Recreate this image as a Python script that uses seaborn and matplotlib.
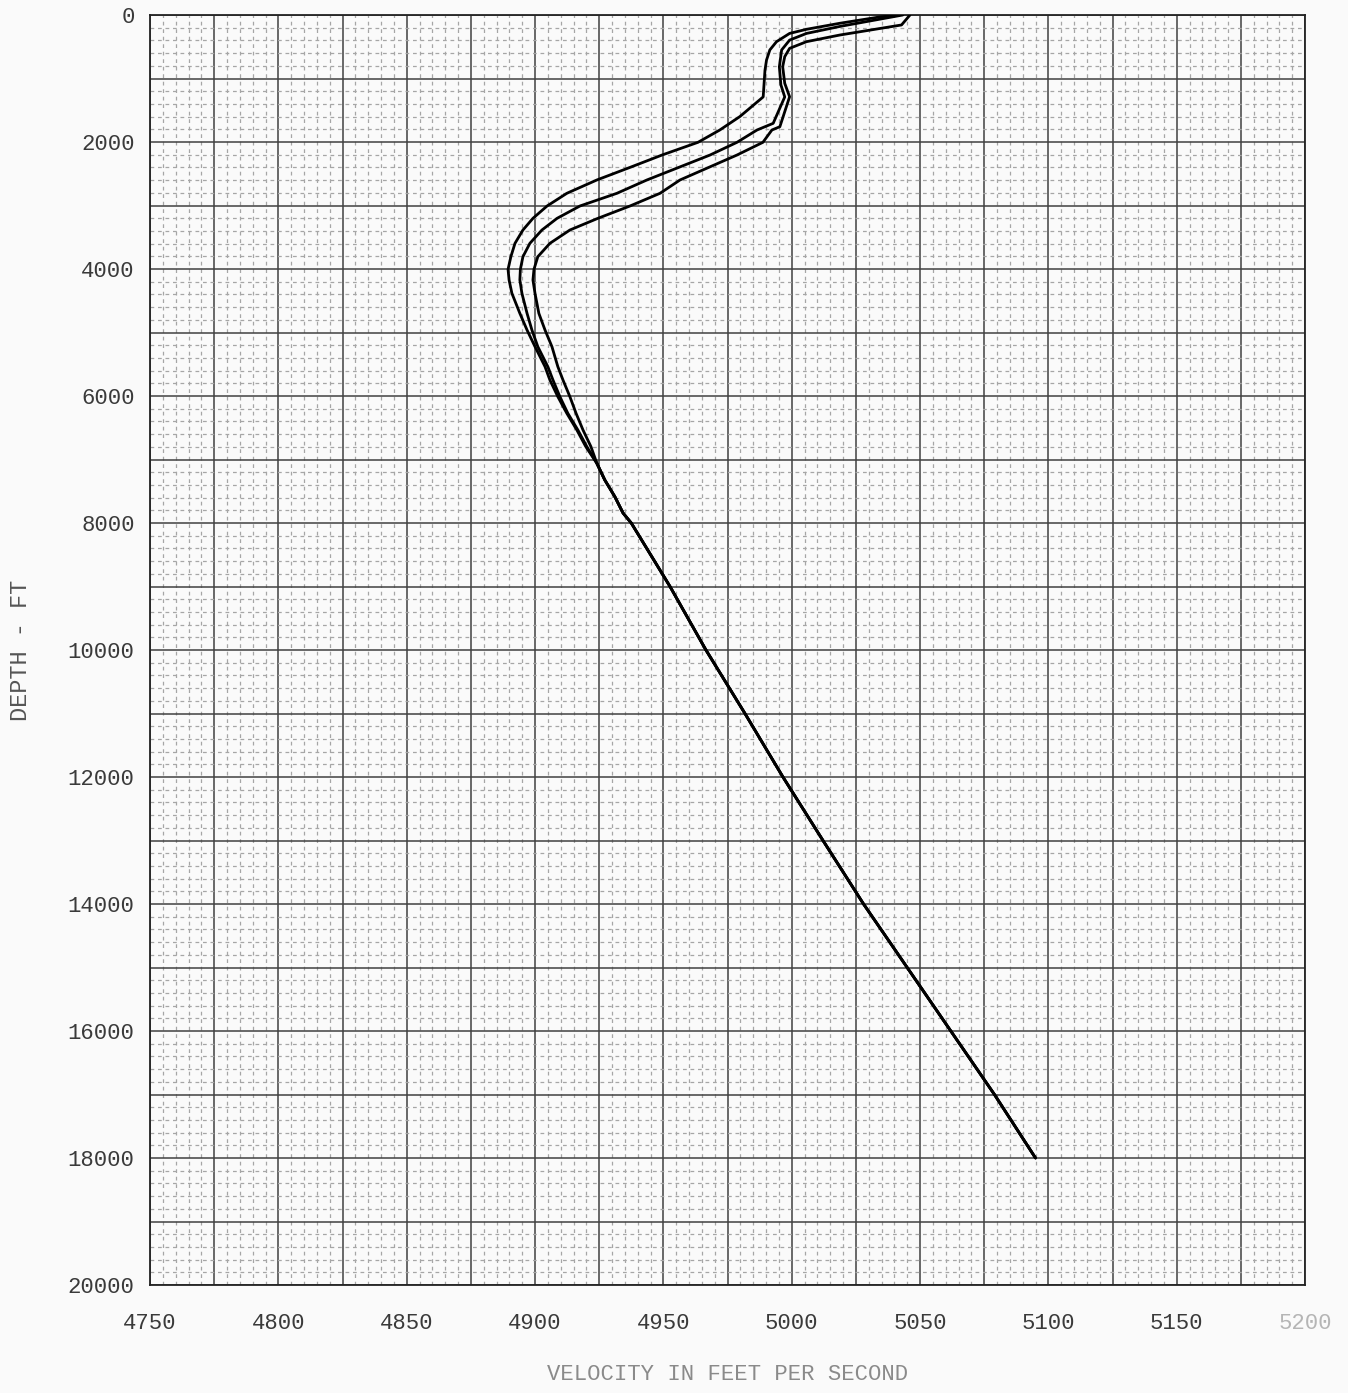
import matplotlib
matplotlib.use("Agg")
import matplotlib.pyplot as plt
from matplotlib.ticker import MultipleLocator, FuncFormatter
import seaborn as sns
import pandas as pd

# ---- data (depth in ft, velocity in ft/s) ----
depth_a = [0, 30, 130, 225, 290, 420, 550, 710, 870, 1290, 1600, 1811, 2005, 2205, 2400,
           2598, 2808, 3008, 3202, 3386, 3596, 3806, 4005, 4173, 4383, 4698, 4961, 5223,
           5538, 5748, 6011, 6273, 6535, 6798, 7060, 7323, 7585, 7843, 8000]
vel_a = [5042, 5034.4, 5018.8, 5005.8, 4999.2, 4994.1, 4991.5, 4990.2, 4989.6, 4988.9,
         4979.8, 4972.0, 4963.5, 4949.5, 4937.0, 4924.1, 4912.4, 4904.7, 4899.2, 4895.3,
         4892.2, 4890.6, 4889.5, 4889.9, 4891.0, 4894.1, 4896.9, 4900.0, 4903.9, 4905.8,
         4908.9, 4912.4, 4916.3, 4919.8, 4924.1, 4927.2, 4931.1, 4934.3, 4937.5]

depth_b = [0, 180, 290, 395, 550, 815, 1100, 1290, 1706, 1811, 2005, 2205, 2598, 2808,
           3008, 3202, 3386, 3596, 3806, 4005, 4173, 4383, 4698, 4961, 5223, 5538, 5748,
           6011, 6273, 6535, 6798, 7060, 7323, 7585, 7843, 8000]
vel_b = [5043.3, 5018.8, 5005.8, 4999.2, 4996.1, 4995.2, 4995.8, 4997.3, 4992.8, 4986.5,
         4978.7, 4968.2, 4943.6, 4931.9, 4917.5, 4908.6, 4902.7, 4898.0, 4895.3, 4894.3,
         4894.1, 4894.9, 4896.9, 4898.8, 4901.1, 4905.0, 4907.0, 4909.7, 4912.8, 4916.7,
         4920.2, 4924.1, 4927.2, 4931.1, 4934.3, 4937.5]

depth_c = [0, 157, 315, 420, 525, 656, 814, 1076, 1287, 1759, 1811, 2005, 2205, 2598,
           2808, 3008, 3202, 3386, 3596, 3806, 4005, 4173, 4383, 4698, 4961, 5223, 5538,
           5748, 6011, 6273, 6535, 6798, 7060, 7323, 7585, 7843, 8000]
vel_c = [5046.1, 5042.8, 5018.8, 5005.8, 4999.2, 4997.3, 4996.5, 4997.3, 4999.2, 4995.4,
         4992.3, 4988.8, 4978.7, 4956.5, 4948.7, 4937.0, 4924.5, 4913.6, 4905.8, 4901.1,
         4899.6, 4899.2, 4900.0, 4901.5, 4903.9, 4906.6, 4908.9, 4910.9, 4913.6, 4916.0,
         4918.7, 4921.8, 4924.1, 4927.2, 4931.1, 4934.3, 4937.5]

# common deep part (all three profiles coincide)
depth_deep = [9000, 10000, 11000, 12000, 13000, 14000, 15000, 16000, 17000, 18000]
vel_deep = [4952.6, 4966.6, 4981.8, 4996.6, 5012.2, 5028.0, 5045.0, 5062.0, 5079.0, 5095.0]

x_ticks = [4750, 4800, 4850, 4900, 4950, 5000, 5050, 5100, 5150, 5200]
y_ticks = [0, 2000, 4000, 6000, 8000, 10000, 12000, 14000, 16000, 18000, 20000]
x_label = "VELOCITY IN FEET PER SECOND"
y_label = "DEPTH - FT"

rows = []
for name, d, v in (("A", depth_a, vel_a), ("B", depth_b, vel_b), ("C", depth_c, vel_c)):
    for dd, vv in zip(d + depth_deep, v + vel_deep):
        rows.append({"curve": name, "depth": dd, "velocity": vv})
df = pd.DataFrame(rows)

sns.set_theme(style="white")
plt.rcParams["font.family"] = ["Liberation Mono", "DejaVu Sans Mono"]

paper = "#fafafa"
fig = plt.figure(figsize=(13.48, 13.93), dpi=100, facecolor=paper)
ax = fig.add_axes([150 / 1348, 1 - 1285 / 1393, 1155 / 1348, 1270 / 1393])
ax.set_facecolor(paper)

sns.lineplot(data=df, x="velocity", y="depth", units="curve", estimator=None,
             sort=False, color="black", linewidth=2.0, ax=ax, zorder=5)

ax.set_xlim(4750, 5200)
ax.set_ylim(20000, 0)

ax.xaxis.set_major_locator(MultipleLocator(25))
ax.yaxis.set_major_locator(MultipleLocator(1000))
ax.xaxis.set_minor_locator(MultipleLocator(5))
ax.yaxis.set_minor_locator(MultipleLocator(200))
ax.xaxis.set_major_formatter(FuncFormatter(
    lambda v, p: f"{int(round(v))}" if int(round(v)) in x_ticks else ""))
ax.yaxis.set_major_formatter(FuncFormatter(
    lambda v, p: f"{int(round(v))}" if int(round(v)) in y_ticks else ""))

ax.grid(which="major", color="#404040", linewidth=1.1, linestyle="-", zorder=1)
ax.grid(which="minor", color="#a6a6a6", linewidth=0.9, linestyle=(0, (3, 3)), zorder=1)
ax.set_axisbelow(True)

ax.tick_params(axis="both", which="both", length=0)
ax.tick_params(axis="x", pad=20, labelsize=16, labelcolor="#3a3a3a")
ax.tick_params(axis="y", pad=11, labelsize=16, labelcolor="#3a3a3a")
for lab in ax.get_xticklabels():
    if lab.get_text() == "5200":
        lab.set_color("#b5b5b5")

for s in ax.spines.values():
    s.set_color("#222222")
    s.set_linewidth(1.3)

ax.set_xlabel(x_label, fontsize=16, color="#8a8a8a", labelpad=22)
ax.set_ylabel(y_label, fontsize=17, color="#555555", labelpad=26)

fig.savefig("out.png", dpi=100, facecolor=paper)
